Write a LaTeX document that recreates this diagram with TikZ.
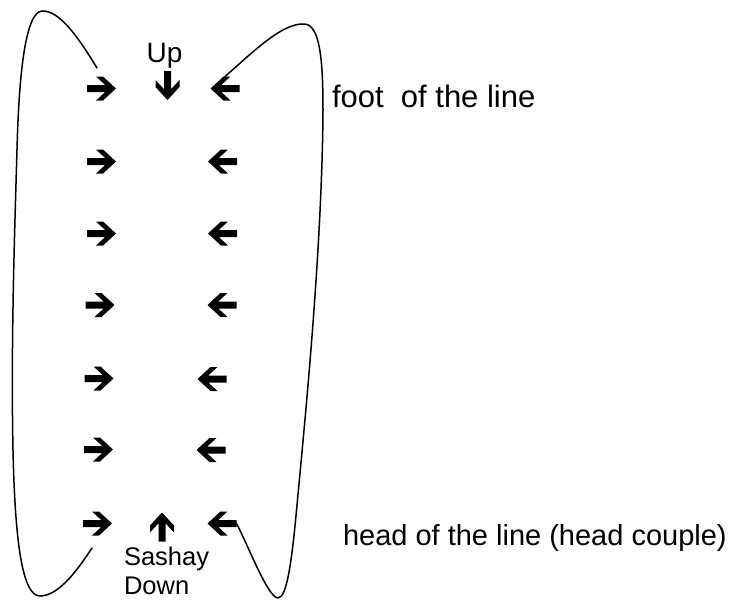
\documentclass[tikz,border=0pt]{standalone}
\usepackage{fontspec}
\setmainfont{Liberation Sans}
\begin{document}
\begin{tikzpicture}[x=1pt,y=-1pt,
  % bold block arrow; the argument turns a right-pointing arrow (page degrees)
  pics/barrow/.style={code={
    \fill[rotate=#1]
      (14.5pt,0pt) -- (1.5pt,12pt) -- (-5.5pt,12pt) -- (3.7pt,3.5pt) -- (-14.5pt,3.5pt)
      -- (-14.5pt,-3.5pt) -- (3.7pt,-3.5pt) -- (-5.5pt,-12pt) -- (1.5pt,-12pt) -- cycle;}},
  harrow/.style={minimum width=29pt, minimum height=24pt, inner sep=0pt, outer sep=0pt},
  varrow/.style={minimum width=24pt, minimum height=29pt, inner sep=0pt, outer sep=0pt},
  outline/.style={line width=1.5pt, line cap=round, line join=round},
  label/.style={inner sep=0pt, outer sep=0pt}]
\useasboundingbox (0,0) rectangle (732,600);

% left column: dancers facing right
\node[harrow] (L1) at (101.5,88.5) {};
\node[harrow] (L2) at (101.5,161.5) {};
\node[harrow] (L3) at (101.5,233.5) {};
\node[harrow] (L4) at (100,305) {};
\node[harrow] (L5) at (99,378.5) {};
\node[harrow] (L6) at (98.5,449.5) {};
\node[harrow] (L7) at (97.5,523.5) {};
\foreach \n in {L1,L2,L3,L4,L5,L6,L7} \pic at (\n) {barrow=0};

% right column: dancers facing left
\node[harrow] (R1) at (225,88.5) {};
\node[harrow] (R2) at (222.5,161.5) {};
\node[harrow] (R3) at (222.5,233.5) {};
\node[harrow] (R4) at (222,305) {};
\node[harrow] (R5) at (212,379) {};
\node[harrow] (R6) at (211,450) {};
\node[harrow] (R7) at (222,523.5) {};
\foreach \n in {R1,R2,R3,R4,R5,R6,R7} \pic at (\n) {barrow=180};

% centre arrows
\node[varrow] (UA) at (167.5,85.5) {};
\pic at (UA) {barrow=-90};
\node[varrow] (DA) at (162,527) {};
\pic at (DA) {barrow=90};

% labels
\node[label, anchor=base, font=\fontsize{28}{32}\selectfont] (up) at (164.5,62) {Up};
\node[label, anchor=north west, align=left, font=\fontsize{25.5}{29.5}\selectfont] (sashay) at (124,547) {Sashay\\Down};
\node[label, anchor=base west, font=\fontsize{31}{36}\selectfont] (foot) at (332,107) {foot~ of the line};
\node[label, anchor=base west, font=\fontsize{29}{34}\selectfont] (head) at (343,545) {head of the line (head couple)};

% curve ends
\coordinate (ltop) at ([shift={(-4.5pt,8.5pt)}]L1.north);
\coordinate (lbot) at ([shift={(-5.5pt,-12.5pt)}]L7.south);

% left loop: foot dancer travels down the outside to the head
\draw[outline] (ltop) .. controls (80,40) and (60,10) .. (42,11)
  .. controls (26,12) and (19,70) .. (17,150)
  .. controls (14,250) and (11,350) .. (13,450)
  .. controls (15,540) and (22,596) .. (40,596)
  .. controls (60,596) and (80,566) .. (lbot);

% right loop: head dancer travels up the outside to the foot
\draw[outline] (R7.east) .. controls (248,545) and (268,598) .. (278,598)
  .. controls (287,598) and (292,560) .. (297,505)
  .. controls (305,420) and (322,250) .. (323,110)
  .. controls (323,60) and (320,26) .. (305,24)
  .. controls (282,22) and (250,55) .. (R1.north);
\end{tikzpicture}
\end{document}
